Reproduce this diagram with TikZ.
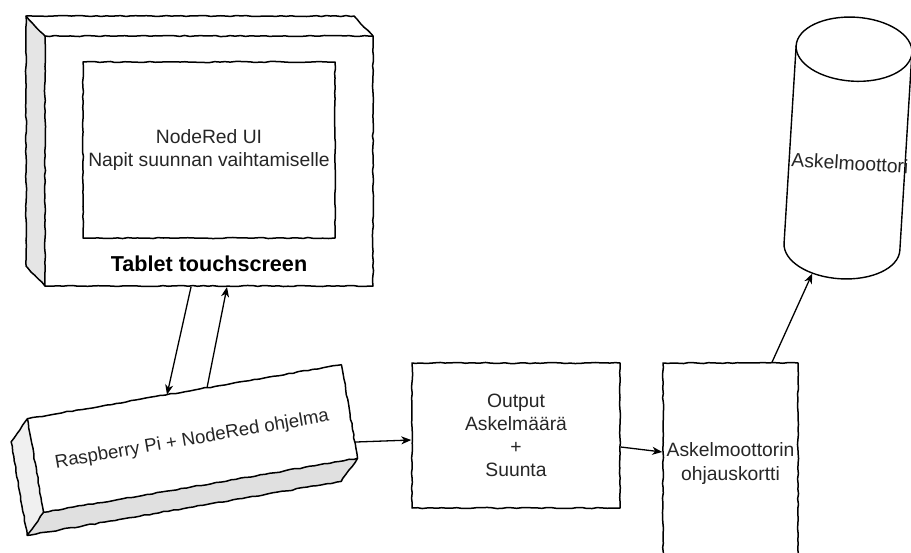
\documentclass[tikz,border=0pt]{standalone}
\usepackage{fontspec}
\setmainfont{Liberation Sans}
\usetikzlibrary{arrows.meta,decorations.pathmorphing}
\begin{document}
\begin{tikzpicture}[x=1pt,y=-1pt,
  sketch/.style={decorate, decoration={random steps, segment length=5pt, amplitude=0.55pt}},
  edge/.style={draw=black, line width=1.5pt, line join=round},
  smooth edge/.style={draw=black, line width=1.4pt, line join=round},
  conn/.style={draw=black, line width=1.3pt, -{Stealth[length=10pt,width=8pt,inset=3pt]}},
  lbl/.style={font=\fontsize{19.3}{23.2}\selectfont, align=center, inner sep=0pt, text=black!85},
  boldlbl/.style={font=\bfseries\fontsize{21.6}{26}\selectfont, inner sep=0pt, text=black},
  box/.style={lbl, edge, sketch, fill=white},
]
\pgfmathsetseed{11}
\useasboundingbox (0,0) rectangle (911,552);
\clip (0,0) rectangle (911,552);
\fill[white] (0,0) rectangle (911,552);

% ---------- Tablet (3D box) ----------
\path[fill=white] (26,16) -- (354,16) -- (373,36) -- (373,286) -- (45,286) -- (26,266) -- cycle;
\path[fill=gray!20] (26,16) -- (45,36) -- (45,286) -- (26,266) -- cycle;
\draw[edge,sketch] (26,16) -- (354,16) -- (373,36) -- (373,286) -- (45,286) -- (26,266) -- cycle;
\draw[edge,sketch] (26,16) -- (45,36) -- (373,36);
\draw[edge,sketch] (45,36) -- (45,286);
\coordinate (tabOut) at (191,287);
\coordinate (tabIn) at (227,287);
\node[box, minimum width=252pt, minimum height=176pt] (screen) at (209,150)
  {NodeRed UI\\Napit suunnan vaihtamiselle};
\node[boldlbl, anchor=base] (tablbl) at (209,271.7) {Tablet touchscreen};

% ---------- Raspberry Pi (rotated 3D box) ----------
\begin{scope}[shift={(192.5,438.5)}, rotate=9.76]
  \path[fill=white] (-159.3,-47.5) rectangle (159.3,47.5);
  \path[fill=gray!12] (-179.3,-27.5) -- (-159.3,-47.5) -- (-159.3,47.5) -- (-179.3,67.5) -- cycle;
  \path[fill=gray!24] (-159.3,47.5) -- (159.3,47.5) -- (139.3,67.5) -- (-179.3,67.5) -- cycle;
  \draw[edge,sketch] (-179.3,-27.5) -- (-159.3,-47.5) -- (159.3,-47.5) -- (159.3,47.5)
     -- (139.3,67.5) -- (-179.3,67.5) -- cycle;
  \draw[edge,sketch] (-159.3,-47.5) -- (-159.3,47.5) -- (159.3,47.5);
  \draw[edge,sketch] (-159.3,47.5) -- (-179.3,67.5);
  \coordinate (rpIn) at (-17.7,-47.5);
  \coordinate (rpOut) at (22.9,-47.5);
  \coordinate (rpRight) at (159.3,31);
\end{scope}
\node[lbl, font=\fontsize{18.6}{22}\selectfont, rotate=9.76] (rplbl) at (192,440) {Raspberry Pi + NodeRed ohjelma};

% ---------- Output box ----------
\node[box, minimum width=208pt, minimum height=145pt] (out) at (516,435.5)
  {Output\\Askelmäärä\\+\\Suunta};

% ---------- Controller board ----------
\node[box, minimum width=135pt, minimum height=201pt] (ctrl) at (730.5,463.5)
  {Askelmoottorin\\ohjauskortti};

% ---------- Motor (cylinder) ----------
\begin{scope}[shift={(848,148)}, rotate=-3.5]
  \path[fill=white] (-58,-99) -- (-58,99) .. controls (-58,116.7) and (-32,131) .. (0,131)
     .. controls (32,131) and (58,116.7) .. (58,99) -- (58,-99) -- cycle;
  \draw[smooth edge] (-58,-99) -- (-58,99) .. controls (-58,116.7) and (-32,131) .. (0,131)
     .. controls (32,131) and (58,116.7) .. (58,99) -- (58,-99);
  \draw[smooth edge, fill=white] (0,-99) ellipse [x radius=58, y radius=32];
  \coordinate (motIn) at (-28,127.5);
\end{scope}
\node[lbl, rotate=-3.5] (motlbl) at (850,163) {Askelmoottori};

% ---------- Connectors ----------
\draw[conn] (tabOut) -- (rpIn);
\draw[conn] (rpOut) -- (tabIn);
\draw[conn] (rpRight) -- ([yshift=-4.5pt]out.west);
\draw[conn] ([yshift=-11.5pt]out.east) -- ([yshift=11.5pt]ctrl.west);
\draw[conn] ([xshift=41.5pt]ctrl.north) -- (motIn);
\end{tikzpicture}
\end{document}
